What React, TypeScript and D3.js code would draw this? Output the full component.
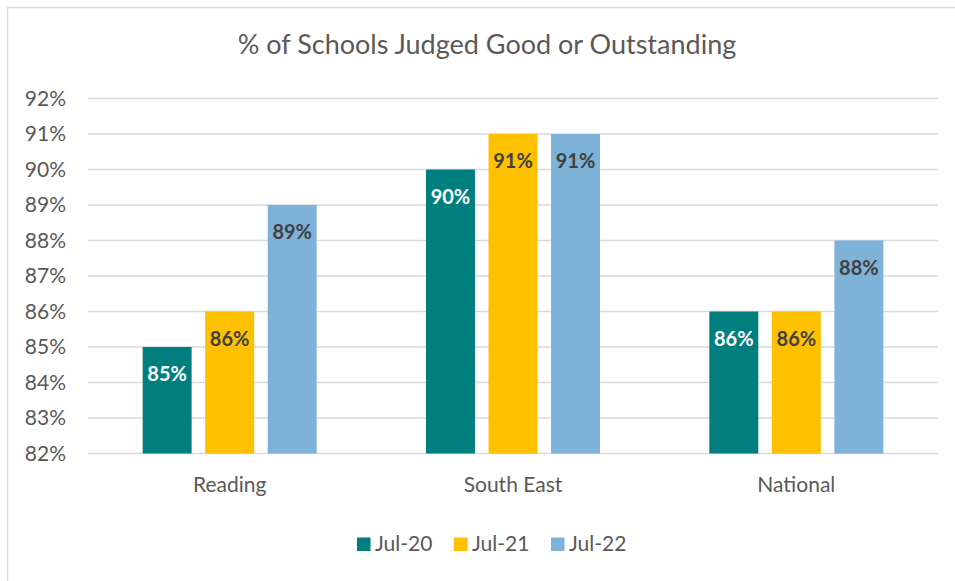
import React from "react";
import * as d3 from "d3";

const categories = ["Reading", "South East", "National"];
const seriesNames = ["Jul-20", "Jul-21", "Jul-22"];
const jul20 = [85, 90, 86];
const jul21 = [86, 91, 86];
const jul22 = [89, 91, 88];
const seriesValues = [jul20, jul21, jul22];
const yTicks = [82, 83, 84, 85, 86, 87, 88, 89, 90, 91, 92];

const colors = ["#007F7F", "#FFC000", "#7FB2D8"];
const labelColors = ["#FFFFFF", "#404040", "#404040"];

const W = 955;
const H = 581;
const FONT = "Lato, 'Open Sans', sans-serif";

export default function App() {
  const x0 = d3.scaleBand<string>().domain(categories).range([88, 938]).padding(0);
  const x1 = d3
    .scaleBand<string>()
    .domain(seriesNames)
    .range([-87, 87])
    .paddingInner(0.217)
    .paddingOuter(0);
  const y = d3.scaleLinear().domain([82, 92]).range([453.5, 98.5]);
  const fmt = (v: number) => `${v}%`;

  const legendX = [357, 454, 551];

  return (
    <svg
      width={W}
      height={H}
      style={{ position: "absolute", left: 0, top: 0, background: "#fff" }}
      fontFamily={FONT}
    >
      <rect x={0} y={0} width={W} height={H} fill="#fff" />
      <rect x={7.5} y={7.5} width={980} height={620} fill="none" stroke="#D9D9D9" strokeWidth={1.5} />
      <text x={487} y={54} textAnchor="middle" fontSize={27} fill="#595959">
        % of Schools Judged Good or Outstanding
      </text>
      {yTicks.map((t) => (
        <g key={t}>
          <line x1={88} x2={938} y1={y(t)} y2={y(t)} stroke="#D9D9D9" strokeWidth={1.5} />
          <text x={66} y={y(t)} dy="0.35em" textAnchor="end" fontSize={21} fill="#595959">
            {fmt(t)}
          </text>
        </g>
      ))}
      {categories.map((c, ci) => {
        const cx = (x0(c) as number) + x0.bandwidth() / 2;
        return (
          <g key={c}>
            {seriesNames.map((s, si) => {
              const v = seriesValues[si][ci];
              const bx = cx + (x1(s) as number);
              const bw = x1.bandwidth();
              return (
                <g key={s}>
                  <rect x={bx} y={y(v)} width={bw} height={y(82) - y(v)} fill={colors[si]} />
                  <text
                    x={bx + bw / 2}
                    y={y(v) + 27}
                    dy="0.35em"
                    textAnchor="middle"
                    fontSize={20}
                    fontWeight={700}
                    fill={labelColors[si]}
                  >
                    {fmt(v)}
                  </text>
                </g>
              );
            })}
            <text x={cx} y={485} dy="0.35em" textAnchor="middle" fontSize={21} fill="#595959">
              {c}
            </text>
          </g>
        );
      })}
      {seriesNames.map((s, si) => (
        <g key={s}>
          <rect x={legendX[si]} y={537.5} width={13.5} height={13.5} fill={colors[si]} />
          <text x={legendX[si] + 18} y={544} dy="0.35em" fontSize={21} fill="#595959">
            {s}
          </text>
        </g>
      ))}
    </svg>
  );
}
